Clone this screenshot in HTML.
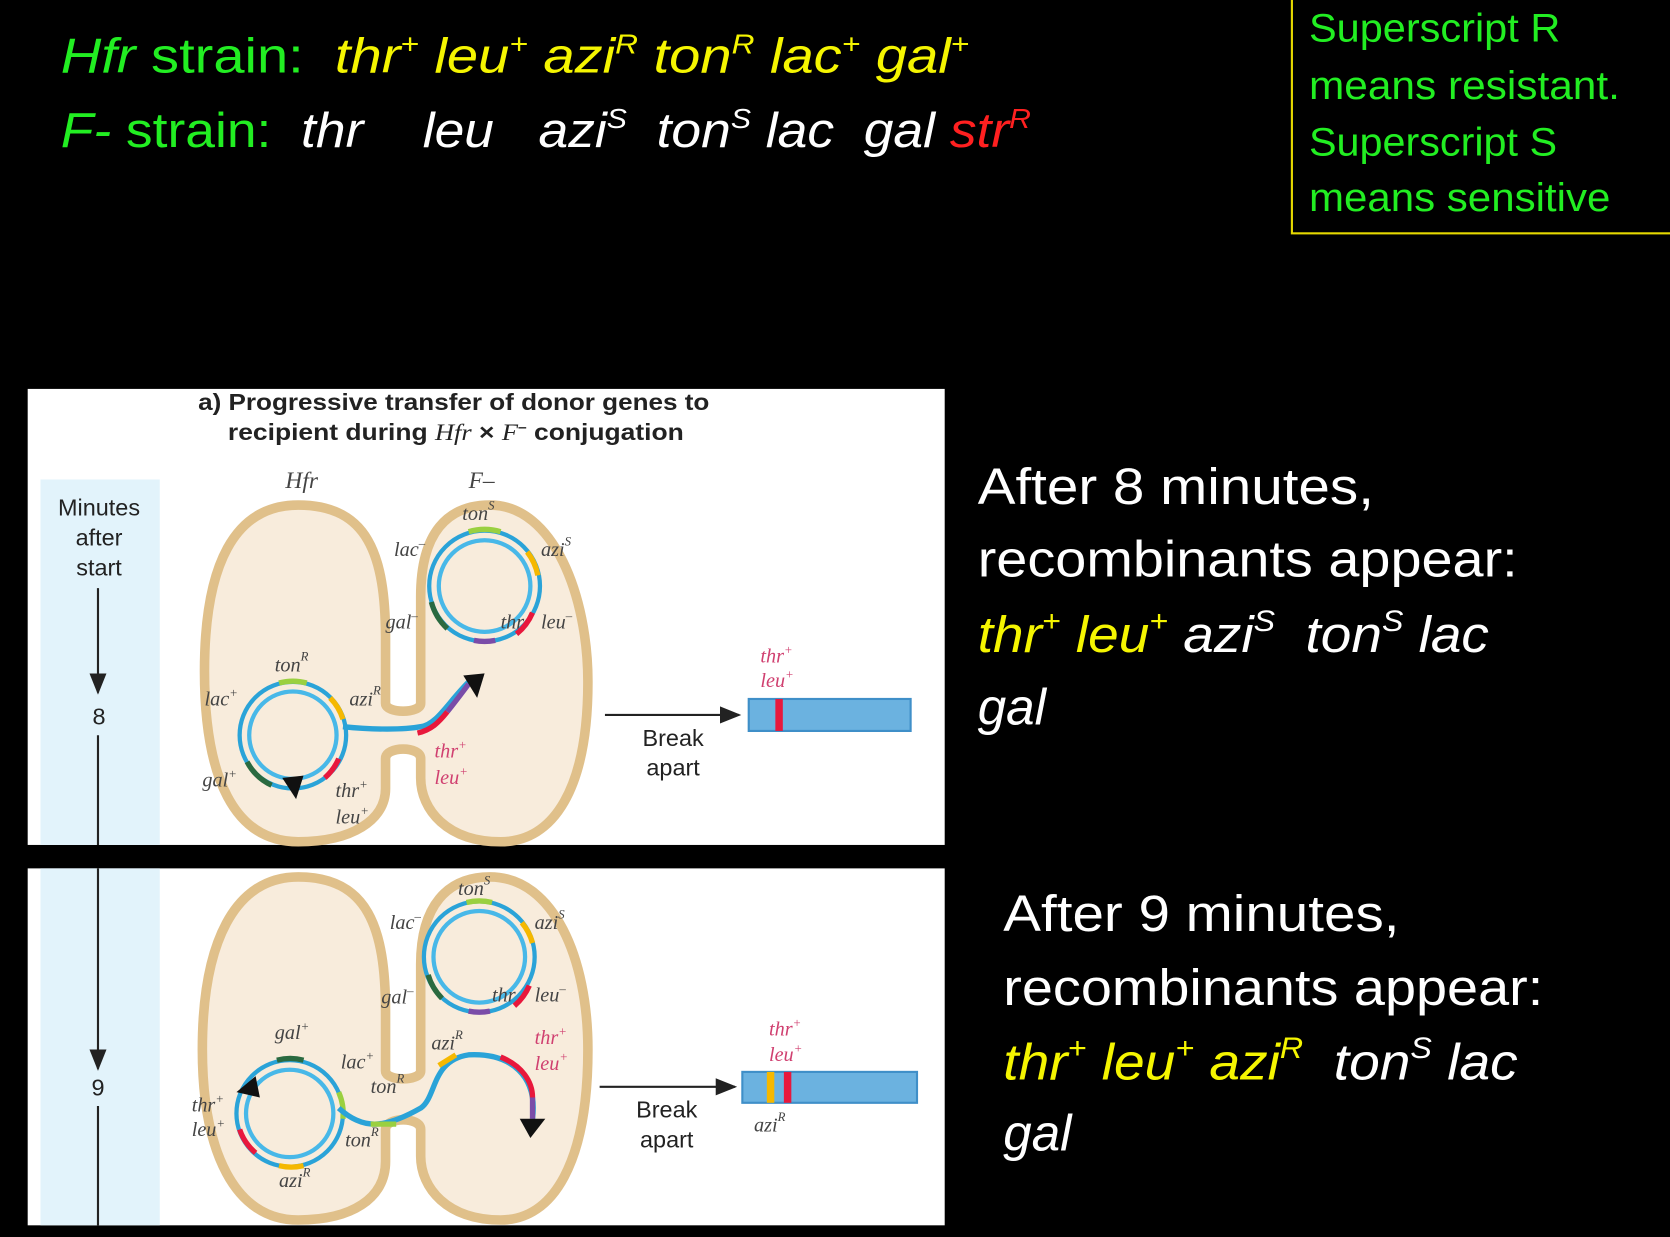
<!DOCTYPE html>
<html><head><meta charset="utf-8"><style>
html,body{margin:0;padding:0;background:#000;}
#w{width:1670px;height:1237px;overflow:hidden;position:relative;background:#000;}
svg{position:absolute;left:0;top:0;transform-origin:0 0;transform:scale(1.06505,1.0655);}
.s{font-family:"Liberation Sans",sans-serif;}
.i{font-family:"Liberation Serif",serif;font-style:italic;}
text{white-space:pre;}
</style></head><body><div id="w">
<svg width="1568" height="1161" viewBox="0 0 1568 1161" xmlns="http://www.w3.org/2000/svg" xml:space="preserve">
<defs>
<marker id="ah" markerWidth="10" markerHeight="10" refX="9" refY="5" orient="auto"><path d="M0,1 L10,5 L0,9 z" fill="#222"/></marker>
</defs>
<text class="s" x="57" y="68" font-size="46" fill="#22ee22" textLength="853" lengthAdjust="spacingAndGlyphs"><tspan font-style="italic">Hfr</tspan> strain:  <tspan fill="#f5f500" font-style="italic">thr<tspan font-size="26" dy="-18">+</tspan><tspan dy="18"> leu</tspan><tspan font-size="26" dy="-18">+</tspan><tspan dy="18"> azi</tspan><tspan font-size="26" dy="-18">R</tspan><tspan dy="18"> ton</tspan><tspan font-size="26" dy="-18">R</tspan><tspan dy="18"> lac</tspan><tspan font-size="26" dy="-18">+</tspan><tspan dy="18"> gal</tspan><tspan font-size="26" dy="-18">+</tspan></tspan></text>
<text class="s" x="57" y="138" font-size="46" fill="#22ee22" textLength="911" lengthAdjust="spacingAndGlyphs"><tspan font-style="italic">F-</tspan> strain:  <tspan fill="#fff" font-style="italic">thr    leu   azi<tspan font-size="26" dy="-18">S</tspan><tspan dy="18">  ton</tspan><tspan font-size="26" dy="-18">S</tspan><tspan dy="18"> lac  gal </tspan><tspan fill="#ff2020">str</tspan><tspan fill="#ff2020" font-size="26" dy="-18">R</tspan></tspan></text>
<rect x="1213" y="-5" width="400" height="224" fill="none" stroke="#e5d800" stroke-width="2"/>
<g class="s" font-size="37" fill="#22ee22">
<text x="1229" y="39" textLength="236" lengthAdjust="spacingAndGlyphs">Superscript R</text>
<text x="1229" y="93" textLength="292" lengthAdjust="spacingAndGlyphs">means resistant.</text>
<text x="1229" y="146" textLength="233" lengthAdjust="spacingAndGlyphs">Superscript S</text>
<text x="1229" y="198" textLength="283" lengthAdjust="spacingAndGlyphs">means sensitive</text>
</g>
<g class="s" font-size="48" fill="#fff">
<text x="918" y="473" textLength="372" lengthAdjust="spacingAndGlyphs">After 8 minutes,</text>
<text x="918" y="541" textLength="507" lengthAdjust="spacingAndGlyphs">recombinants appear:</text>
<text x="918" y="612" font-style="italic" textLength="480" lengthAdjust="spacingAndGlyphs"><tspan fill="#f5f500">thr<tspan font-size="28" dy="-20">+</tspan><tspan dy="20"> leu</tspan><tspan font-size="28" dy="-20">+</tspan></tspan><tspan dy="20"> azi</tspan><tspan font-size="28" dy="-20">S</tspan><tspan dy="20">  ton</tspan><tspan font-size="28" dy="-20">S</tspan><tspan dy="20"> lac</tspan></text>
<text x="918" y="680" font-style="italic">gal</text>
<text x="942" y="874" textLength="372" lengthAdjust="spacingAndGlyphs">After 9 minutes,</text>
<text x="942" y="943" textLength="507" lengthAdjust="spacingAndGlyphs">recombinants appear:</text>
<text x="942" y="1013" font-style="italic" textLength="483" lengthAdjust="spacingAndGlyphs"><tspan fill="#f5f500">thr<tspan font-size="28" dy="-20">+</tspan><tspan dy="20"> leu</tspan><tspan font-size="28" dy="-20">+</tspan><tspan dy="20"> azi</tspan><tspan font-size="28" dy="-20">R</tspan></tspan><tspan dy="20">  ton</tspan><tspan font-size="28" dy="-20">S</tspan><tspan dy="20"> lac</tspan></text>
<text x="942" y="1080" font-style="italic">gal</text>
</g>
<rect x="26" y="365" width="861" height="428" fill="#fff"/>
<rect x="26" y="815" width="861" height="335" fill="#fff"/>
<rect x="38" y="450" width="112" height="343" fill="#e2f3fb"/>
<rect x="38" y="815" width="112" height="335" fill="#e2f3fb"/>
<g class="s" font-size="22" fill="#222" font-weight="bold">
<text x="186" y="385" textLength="480" lengthAdjust="spacingAndGlyphs">a) Progressive transfer of donor genes to</text>
<text x="214" y="413" textLength="428" lengthAdjust="spacingAndGlyphs">recipient during <tspan font-family="Liberation Serif" font-style="italic" font-weight="normal">Hfr</tspan> × <tspan font-family="Liberation Serif" font-style="italic" font-weight="normal">F</tspan><tspan font-size="13" dy="-8">–</tspan><tspan dy="8"> conjugation</tspan></text>
</g>
<g class="s" font-size="22" fill="#222" text-anchor="middle">
<text x="93" y="484">Minutes</text><text x="93" y="512">after</text><text x="93" y="540">start</text>
<text x="93" y="680">8</text><text x="92" y="1028">9</text>
</g>
<line x1="92" y1="552" x2="92" y2="650" stroke="#222" stroke-width="2" marker-end="url(#ah)"/>
<line x1="92" y1="690" x2="92" y2="793" stroke="#222" stroke-width="2"/>
<line x1="92" y1="815" x2="92" y2="1003" stroke="#222" stroke-width="2" marker-end="url(#ah)"/>
<line x1="92" y1="1038" x2="92" y2="1150" stroke="#222" stroke-width="2"/>
<g fill="#f8ecdc" stroke="#e0c08a" stroke-width="9">
<path d="M280,474 C345,474 362,520 362,600 L362,660 C362,670 395,670 395,660 L395,560 C395,500 420,474 460,474 C520,474 552,560 552,640 C552,740 520,790 470,790 C420,790 395,760 395,730 L395,712 C395,700 362,700 362,712 L362,740 C362,770 330,790 280,790 C220,790 192,730 192,630 C192,530 220,474 280,474 z"/>
<path d="M280,823 C345,823 362,870 362,950 L362,1005 C362,1015 395,1015 395,1005 L395,905 C395,850 420,823 460,823 C520,823 552,900 552,985 C552,1090 520,1145 470,1145 C420,1145 395,1115 395,1085 L395,1060 C395,1048 362,1048 362,1060 L362,1090 C362,1125 330,1145 280,1145 C220,1145 190,1080 190,985 C190,885 220,823 280,823 z"/>
</g>
<g fill="none" stroke-width="4">
<circle cx="455" cy="550" r="52" stroke="#2aa3d8"/><circle cx="455" cy="550" r="43" stroke="#48b8e8"/>
<circle cx="275" cy="690" r="50" stroke="#2aa3d8"/><circle cx="275" cy="690" r="41" stroke="#48b8e8"/>
<circle cx="450" cy="898" r="52" stroke="#2aa3d8"/><circle cx="450" cy="898" r="43" stroke="#48b8e8"/>
<circle cx="272" cy="1045" r="50" stroke="#2aa3d8"/><circle cx="272" cy="1045" r="41" stroke="#48b8e8"/>
</g>
<g fill="none" stroke-width="5">
<path d="M440,499 A52,52 0 0 1 470,499" stroke="#9ad040"/>
<path d="M495,518 A52,52 0 0 1 505,540" stroke="#f5b800"/>
<path d="M500,575 A52,52 0 0 1 485,595" stroke="#e8183c"/>
<path d="M445,601 A52,52 0 0 0 465,601" stroke="#7a4ca8"/>
<path d="M405,565 A52,52 0 0 0 420,590" stroke="#2a6a40"/>
<path d="M262,641 A50,50 0 0 1 288,641" stroke="#9ad040"/>
<path d="M310,655 A50,50 0 0 1 322,675" stroke="#f5b800"/>
<path d="M318,712 A50,50 0 0 1 305,730" stroke="#e8183c"/>
<path d="M232,715 A50,50 0 0 0 255,737" stroke="#2a6a40"/>
<path d="M438,847 A52,52 0 0 1 462,847" stroke="#9ad040"/>
<path d="M490,866 A52,52 0 0 1 500,885" stroke="#f5b800"/>
<path d="M497,925 A52,52 0 0 1 483,944" stroke="#e8183c"/>
<path d="M440,949 A52,52 0 0 0 460,949" stroke="#7a4ca8"/>
<path d="M402,915 A52,52 0 0 0 415,937" stroke="#2a6a40"/>
<path d="M260,995 A50,50 0 0 1 285,995" stroke="#2a6a40"/>
<path d="M318,1025 A50,50 0 0 1 322,1050" stroke="#9ad040"/>
<path d="M262,1094 A50,50 0 0 0 285,1094" stroke="#f5b800"/>
<path d="M225,1060 A50,50 0 0 0 240,1082" stroke="#e8183c"/>
</g>
<g fill="none" stroke-width="5">
<path d="M322,682 C350,685 380,685 395,682 C410,680 420,660 440,640" stroke="#2aa3d8"/>
<path d="M392,688 C405,685 412,678 420,668" stroke="#e8183c"/>
<path d="M420,668 C428,658 434,650 440,642" stroke="#7a4ca8"/>
</g>
<path d="M435,634 L455,632 L448,655 z" fill="#111"/>
<path d="M265,730 L285,728 L278,750 z" fill="#111"/>
<g fill="none" stroke-width="5">
<path d="M318,1040 C340,1060 360,1060 395,1040 C410,1030 405,995 440,990 C480,988 505,1010 500,1050" stroke="#2aa3d8"/>
<path d="M348,1055 L372,1055" stroke="#9ad040"/>
<path d="M412,1000 L428,990" stroke="#f5b800"/>
<path d="M470,992 C490,1000 500,1015 500,1030" stroke="#e8183c"/>
<path d="M500,1030 L500,1050" stroke="#7a4ca8"/>
</g>
<path d="M488,1050 L512,1050 L498,1068 z" fill="#111"/>
<path d="M222,1025 L240,1010 L244,1030 z" fill="#111"/>
<g class="i" font-size="19" fill="#444">
<text x="268" y="458" font-size="22">Hfr</text><text x="440" y="458" font-size="22">F–</text>
<text x="434" y="488">ton<tspan font-size="12" dy="-10">S</tspan></text>
<text x="370" y="522">lac<tspan font-size="12" dy="-8">–</tspan></text>
<text x="508" y="522">azi<tspan font-size="12" dy="-10">S</tspan></text>
<text x="362" y="590">gal<tspan font-size="12" dy="-8">–</tspan></text>
<text x="470" y="590">thr</text><text x="508" y="590">leu<tspan font-size="12" dy="-8">–</tspan></text>
<text x="258" y="630">ton<tspan font-size="12" dy="-10">R</tspan></text>
<text x="192" y="662">lac<tspan font-size="12" dy="-8">+</tspan></text>
<text x="328" y="662">azi<tspan font-size="12" dy="-10">R</tspan></text>
<text x="190" y="738">gal<tspan font-size="12" dy="-8">+</tspan></text>
<text x="315" y="748">thr<tspan font-size="12" dy="-8">+</tspan></text>
<text x="315" y="773">leu<tspan font-size="12" dy="-8">+</tspan></text>
<text x="430" y="840">ton<tspan font-size="12" dy="-10">S</tspan></text>
<text x="366" y="872">lac<tspan font-size="12" dy="-8">–</tspan></text>
<text x="502" y="872">azi<tspan font-size="12" dy="-10">S</tspan></text>
<text x="358" y="942">gal<tspan font-size="12" dy="-8">–</tspan></text>
<text x="462" y="940">thr</text><text x="502" y="940">leu<tspan font-size="12" dy="-8">–</tspan></text>
<text x="258" y="975">gal<tspan font-size="12" dy="-8">+</tspan></text>
<text x="320" y="1003">lac<tspan font-size="12" dy="-8">+</tspan></text>
<text x="405" y="985">azi<tspan font-size="12" dy="-10">R</tspan></text>
<text x="348" y="1026">ton<tspan font-size="12" dy="-10">R</tspan></text>
<text x="180" y="1043">thr<tspan font-size="12" dy="-8">+</tspan></text>
<text x="180" y="1066">leu<tspan font-size="12" dy="-8">+</tspan></text>
<text x="324" y="1076">ton<tspan font-size="12" dy="-10">R</tspan></text>
<text x="262" y="1114">azi<tspan font-size="12" dy="-10">R</tspan></text>
<text x="708" y="1062">azi<tspan font-size="12" dy="-10">R</tspan></text>
</g>
<g class="i" font-size="19" fill="#d04070">
<text x="408" y="711">thr<tspan font-size="12" dy="-8">+</tspan></text>
<text x="408" y="736">leu<tspan font-size="12" dy="-8">+</tspan></text>
<text x="714" y="622">thr<tspan font-size="12" dy="-8">+</tspan></text>
<text x="714" y="645">leu<tspan font-size="12" dy="-8">+</tspan></text>
<text x="502" y="980">thr<tspan font-size="12" dy="-8">+</tspan></text>
<text x="502" y="1004">leu<tspan font-size="12" dy="-8">+</tspan></text>
<text x="722" y="972">thr<tspan font-size="12" dy="-8">+</tspan></text>
<text x="722" y="996">leu<tspan font-size="12" dy="-8">+</tspan></text>
</g>
<line x1="568" y1="671" x2="694" y2="671" stroke="#222" stroke-width="2" marker-end="url(#ah)"/>
<line x1="563" y1="1020" x2="690" y2="1020" stroke="#222" stroke-width="2" marker-end="url(#ah)"/>
<g class="s" font-size="22" fill="#222" text-anchor="middle">
<text x="632" y="700">Break</text><text x="632" y="728">apart</text>
<text x="626" y="1049">Break</text><text x="626" y="1077">apart</text>
</g>
<rect x="703" y="656" width="152" height="30" fill="#6bb2e0" stroke="#3f8fc8" stroke-width="2"/>
<rect x="728" y="656" width="7" height="30" fill="#e8183c"/>
<rect x="697" y="1006" width="164" height="29" fill="#6bb2e0" stroke="#3f8fc8" stroke-width="2"/>
<rect x="720" y="1006" width="7" height="29" fill="#f5b800"/>
<rect x="736" y="1006" width="7" height="29" fill="#e8183c"/>
</svg>
</div></body></html>
